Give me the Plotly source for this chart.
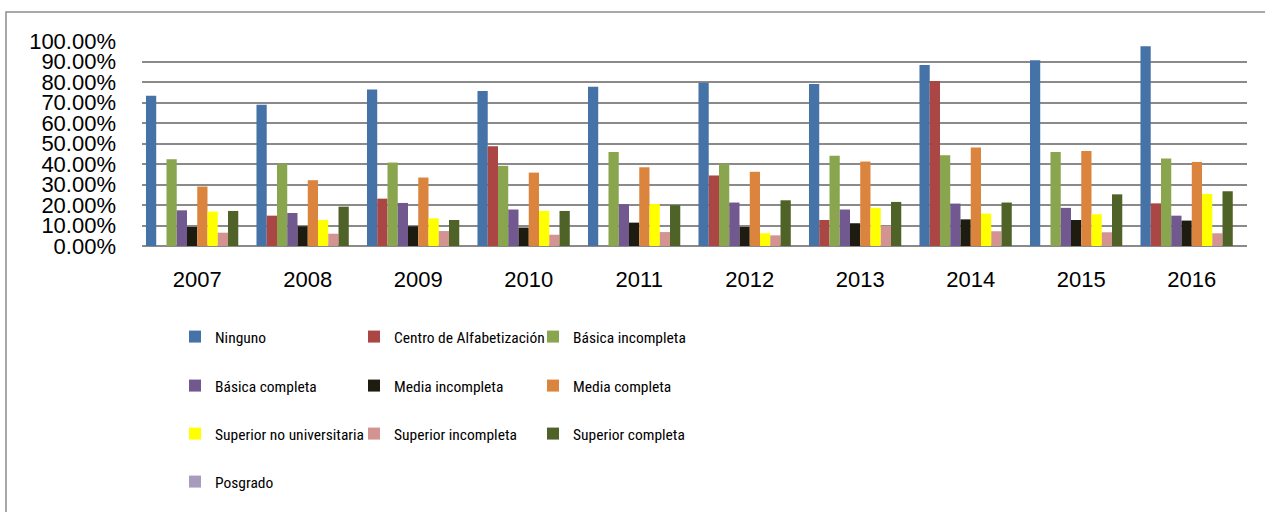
import plotly.graph_objects as go

years = ["2007", "2008", "2009", "2010", "2011", "2012", "2013", "2014", "2015", "2016"]

ninguno = [73.3, 68.9, 76.4, 75.6, 77.7, 79.6, 79.0, 88.3, 90.6, 97.4]
centro_alfabetizacion = [None, 14.8, 23.1, 48.7, None, 34.4, 12.7, 80.5, None, 20.8]
basica_incompleta = [42.3, 40.2, 40.7, 39.1, 45.8, 40.1, 44.0, 44.3, 45.8, 42.7]
basica_completa = [17.4, 16.1, 21.0, 17.8, 20.4, 21.2, 17.8, 20.7, 18.6, 14.8]
media_incompleta = [9.3, 9.6, 9.6, 9.0, 11.4, 9.3, 11.1, 13.0, 12.7, 12.4]
media_completa = [29.0, 32.1, 33.4, 35.8, 38.4, 36.2, 41.2, 48.0, 46.4, 41.0]
superior_no_universitaria = [16.8, 12.7, 13.5, 17.1, 20.5, 6.2, 18.6, 15.8, 15.5, 25.4]
superior_incompleta = [6.5, 6.0, 7.3, 5.5, 6.8, 5.2, 9.8, 7.2, 6.7, 6.2]
superior_completa = [17.1, 19.2, 12.7, 17.1, 19.9, 22.3, 21.5, 21.2, 25.2, 26.7]
posgrado = [None] * 10

y_ticks = [0, 0.1, 0.2, 0.3, 0.4, 0.5, 0.6, 0.7, 0.8, 0.9, 1.0]

series = [
    ("Ninguno", ninguno, "#4572A7", "legend"),
    ("Centro de Alfabetización", centro_alfabetizacion, "#AA4643", "legend"),
    ("Básica incompleta", basica_incompleta, "#89A54E", "legend"),
    ("Básica completa", basica_completa, "#71588F", "legend2"),
    ("Media incompleta", media_incompleta, "#1E1C11", "legend2"),
    ("Media completa", media_completa, "#DB843D", "legend2"),
    ("Superior no universitaria", superior_no_universitaria, "#FFFF00", "legend3"),
    ("Superior incompleta", superior_incompleta, "#D39391", "legend3"),
    ("Superior completa", superior_completa, "#4F6228", "legend3"),
    ("Posgrado", posgrado, "#A99BBD", "legend4"),
]

fig = go.Figure()
for name, vals, color, leg in series:
    fig.add_trace(go.Bar(
        x=years,
        y=[v / 100 if v is not None else None for v in vals],
        name=name,
        marker=dict(color=color, line=dict(width=0)),
        legend=leg,
    ))

L, R, T, B = 142, 18, 41, 266
W, H = 1265, 512
pw, ph = W - L - R, H - T - B

def px2paper_x(px):
    return (px - L) / pw

def px2paper_y(py):
    return (H - B - py) / ph

legend_font = dict(family="Roboto Condensed, Liberation Sans", size=15.5, color="#000000")
leg_common = dict(
    orientation="h", xanchor="left", yanchor="middle",
    x=px2paper_x(175), font=legend_font,
    entrywidth=134, entrywidthmode="pixels",
    bgcolor="rgba(0,0,0,0)", traceorder="normal",
)

fig.update_layout(
    width=W, height=H,
    margin=dict(l=L, r=R, t=T, b=B, pad=0),
    paper_bgcolor="white", plot_bgcolor="white",
    barmode="group", bargap=0.072, bargroupgap=0,
    font=dict(family="Liberation Sans", color="#000000"),
    legend=dict(leg_common, y=px2paper_y(337)),
    legend2=dict(leg_common, y=px2paper_y(386)),
    legend3=dict(leg_common, y=px2paper_y(434)),
    legend4=dict(leg_common, y=px2paper_y(482)),
    xaxis=dict(
        showgrid=False, showline=False, zeroline=False,
        ticks="", tickfont=dict(size=22, family="Liberation Sans"),
        ticklabelstandoff=18,
    ),
    yaxis=dict(
        range=[0, 1.0], tickvals=y_ticks, tickformat=".2%",
        showgrid=True, gridcolor="#8a8a8a", gridwidth=1.5,
        zeroline=True, zerolinecolor="#8a8a8a", zerolinewidth=1.5,
        showline=False, ticks="",
        tickfont=dict(size=22, family="Liberation Sans"),
        ticklabelstandoff=25,
    ),
    shapes=[dict(
        type="rect", xref="paper", yref="paper",
        x0=px2paper_x(6), x1=px2paper_x(1275),
        y0=px2paper_y(530), y1=px2paper_y(12),
        line=dict(color="#8c8c8c", width=1.5), fillcolor="rgba(0,0,0,0)",
        layer="below",
    )],
)

fig.write_html("out.html", config={"displayModeBar": False},
               post_script="document.body.style.margin='0px';")
